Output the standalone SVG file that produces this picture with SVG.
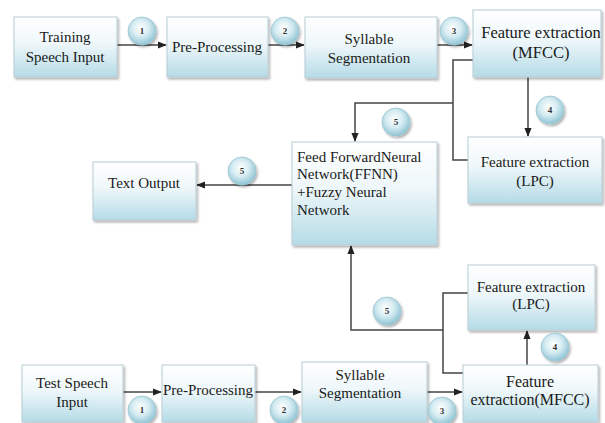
<svg xmlns="http://www.w3.org/2000/svg" width="605" height="423" viewBox="0 0 605 423">
<defs>
<linearGradient id="bg" x1="0" y1="0" x2="0" y2="1">
<stop offset="0" stop-color="#ffffff"/>
<stop offset="0.45" stop-color="#eef7fa"/>
<stop offset="1" stop-color="#b5dbe6"/>
</linearGradient>
<radialGradient id="cg" cx="0.45" cy="0.4" r="0.6">
<stop offset="0" stop-color="#ffffff"/>
<stop offset="0.5" stop-color="#d6ecf2"/>
<stop offset="1" stop-color="#8fc4d4"/>
</radialGradient>
<filter id="sh" x="-10%" y="-10%" width="130%" height="130%">
<feDropShadow dx="1.5" dy="2" stdDeviation="1.2" flood-color="#000" flood-opacity="0.3"/>
</filter>
<marker id="ar" viewBox="0 0 10 10" refX="9" refY="5" markerWidth="6" markerHeight="6" orient="auto">
<path d="M0,1 L10,5 L0,9 Z" fill="#222"/>
</marker>
</defs>
<style>
.box{fill:url(#bg);stroke:#b8cdd4;stroke-width:1;filter:url(#sh)}
.t{font-family:"Liberation Serif","Times New Roman",serif;font-size:15px;fill:#1a1a1a;text-anchor:middle}
.tl{font-family:"Liberation Serif","Times New Roman",serif;font-size:15px;fill:#1a1a1a}
.c{fill:url(#cg);stroke:#9cc7d3;stroke-width:0.8;filter:url(#sh)}
.n{font-family:"Liberation Serif","Times New Roman",serif;font-size:9px;font-weight:bold;fill:#333;text-anchor:middle}
.ln{fill:none;stroke:#444;stroke-width:1.5}
</style>
<rect width="605" height="423" fill="#fff"/>

<g id="connectors">
<line class="ln" x1="117" y1="45" x2="166" y2="45" marker-end="url(#ar)"/>
<line class="ln" x1="268" y1="45" x2="304" y2="45" marker-end="url(#ar)"/>
<line class="ln" x1="437" y1="45" x2="472" y2="45" marker-end="url(#ar)"/>
<polyline class="ln" points="473,60 453,60 453,160 468,160"/>
<polyline class="ln" points="453,103 355,103 355,141" marker-end="url(#ar)"/>
<line class="ln" x1="528" y1="77" x2="528" y2="136" marker-end="url(#ar)"/>
<line class="ln" x1="292" y1="185" x2="197" y2="185" marker-end="url(#ar)"/>
<line class="ln" x1="123" y1="392" x2="161" y2="392" marker-end="url(#ar)"/>
<line class="ln" x1="255" y1="392" x2="301" y2="392" marker-end="url(#ar)"/>
<line class="ln" x1="427" y1="392" x2="462" y2="392" marker-end="url(#ar)"/>
<polyline class="ln" points="463,373 443,373 443,293 468,293"/>
<polyline class="ln" points="443,330 351,330 351,246" marker-end="url(#ar)"/>
<line class="ln" x1="527" y1="365" x2="527" y2="331" marker-end="url(#ar)"/>
</g>

<g id="train-input"><rect class="box" x="14" y="17" width="103" height="60"/><text class="t" x="65" y="42">Training</text><text class="t" x="65" y="62">Speech Input</text></g>
<g id="train-pre"><rect class="box" x="167" y="17" width="101" height="60"/><text class="t" x="217" y="52">Pre-Processing</text></g>
<g id="train-syl"><rect class="box" x="305" y="17" width="132" height="61"/><text class="t" x="369" y="44">Syllable</text><text class="t" x="369" y="63">Segmentation</text></g>
<g id="train-mfcc"><rect class="box" x="473" y="10" width="128" height="67"/><text class="t" x="541" y="38" style="font-size:16.5px">Feature extraction</text><text class="t" x="541" y="58" style="font-size:16.5px">(MFCC)</text></g>
<g id="train-lpc"><rect class="box" x="468" y="137" width="134" height="66"/><text class="t" x="535" y="167">Feature extraction</text><text class="t" x="535" y="186">(LPC)</text></g>
<g id="ffnn"><rect class="box" x="292" y="142" width="145" height="103"/><text class="tl" x="297" y="162">Feed ForwardNeural</text><text class="tl" x="297" y="179">Network(FFNN)</text><text class="tl" x="297" y="197">+Fuzzy Neural</text><text class="tl" x="297" y="215">Network</text></g>
<g id="text-output"><rect class="box" x="93" y="162" width="103" height="58"/><text class="t" x="144" y="188">Text Output</text></g>
<g id="test-lpc"><rect class="box" x="468" y="265" width="127" height="65"/><text class="t" x="531" y="292">Feature extraction</text><text class="t" x="531" y="309">(LPC)</text></g>
<g id="test-input"><rect class="box" x="22" y="365" width="101" height="57"/><text class="t" x="72" y="388">Test Speech</text><text class="t" x="72" y="407">Input</text></g>
<g id="test-pre"><rect class="box" x="162" y="365" width="93" height="57"/><text class="t" x="208" y="395">Pre-Processing</text></g>
<g id="test-syl"><rect class="box" x="302" y="362" width="125" height="60"/><text class="t" x="360" y="380">Syllable</text><text class="t" x="360" y="398">Segmentation</text></g>
<g id="test-mfcc"><rect class="box" x="463" y="365" width="135" height="57"/><text class="t" x="530" y="387" style="font-size:16px">Feature</text><text class="t" x="530" y="405" style="font-size:16px">extraction(MFCC)</text></g>

<g id="labels">
<g><circle class="c" cx="142" cy="31" r="14"/><text class="n" x="142" y="34">1</text></g>
<g><circle class="c" cx="285" cy="31" r="14"/><text class="n" x="285" y="34">2</text></g>
<g><circle class="c" cx="454" cy="31" r="14"/><text class="n" x="454" y="34">3</text></g>
<g><circle class="c" cx="550" cy="110" r="14"/><text class="n" x="550" y="113">4</text></g>
<g><circle class="c" cx="396" cy="122" r="14"/><text class="n" x="396" y="125">5</text></g>
<g><circle class="c" cx="242" cy="171" r="14"/><text class="n" x="242" y="174">5</text></g>
<g><circle class="c" cx="387" cy="311" r="14"/><text class="n" x="387" y="314">5</text></g>
<g><circle class="c" cx="555" cy="347" r="14"/><text class="n" x="555" y="350">4</text></g>
<g><circle class="c" cx="142" cy="410" r="14"/><text class="n" x="142" y="413">1</text></g>
<g><circle class="c" cx="284" cy="410" r="14"/><text class="n" x="284" y="413">2</text></g>
<g><circle class="c" cx="442" cy="411" r="14"/><text class="n" x="442" y="414">3</text></g>
</g>
</svg>
